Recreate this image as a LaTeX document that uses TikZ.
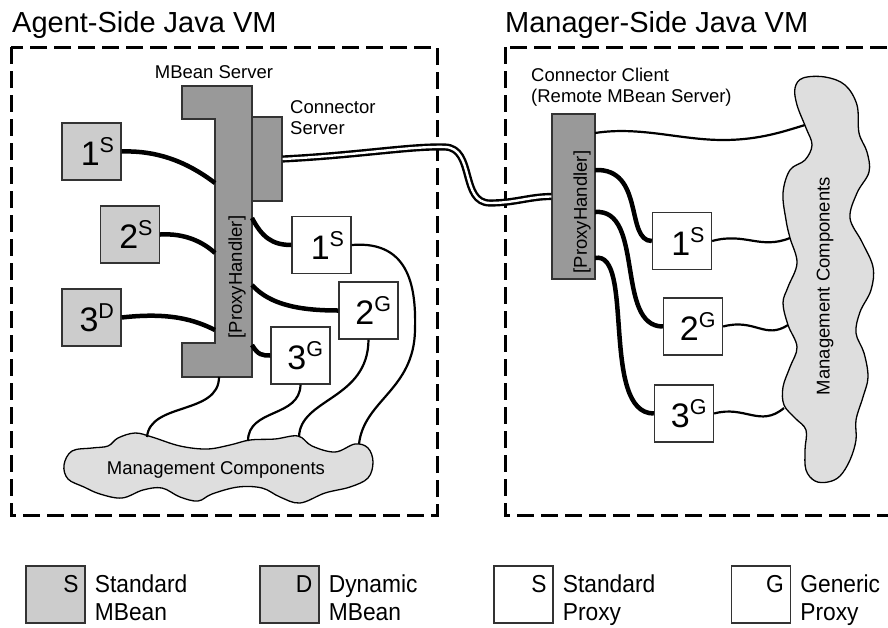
\documentclass[tikz,border=0pt]{standalone}
\usepackage{fontspec}
\setmainfont{Liberation Sans}
\newfontfamily\legfont[FakeStretch=0.93]{Liberation Sans}
\usetikzlibrary{calc}
\definecolor{srvgray}{HTML}{999999}
\definecolor{beangray}{HTML}{CCCCCC}
\definecolor{cloudgray}{HTML}{DEDEDE}
\definecolor{edgegray}{HTML}{333333}
% big box label: number with a raised kind letter
\newcommand\bxlab[2]{{\fontsize{34}{34}\selectfont #1}\raisebox{13pt}{\fontsize{21.5}{21.5}\selectfont #2}}
\begin{document}
\begin{tikzpicture}[x=1pt,y=-1pt,
  vmbox/.style={draw=black, line width=3pt, dash pattern=on 17pt off 7pt},
  title/.style={font=\fontsize{29}{33}\selectfont, anchor=base west, inner sep=0},
  lbl/.style={font=\fontsize{18.5}{21}\selectfont, inner sep=0},
  server/.style={draw=edgegray, line width=1.3pt, fill=srvgray},
  bean/.style={draw=edgegray, line width=1.3pt, fill=beangray, minimum width=59pt,
    minimum height=57pt, inner sep=0, text width=45pt, align=right},
  proxy/.style={bean, fill=white},
  cloudshape/.style={draw=black, line width=1.3pt, fill=cloudgray},
  thicklink/.style={draw=black, line width=4.5pt},
  thinlink/.style={draw=black, line width=2.2pt},
  pipe/.style={draw=black, line width=2.4pt, double=white, double distance=2.4pt},
  legbox/.style={draw=edgegray, line width=1.3pt, minimum width=59pt, minimum height=57pt, inner sep=0},
  legtext/.style={font=\legfont\fontsize{24.5}{28}\selectfont, inner sep=0, align=left}
]
\useasboundingbox (0,0) rectangle (888,627);

% the two virtual machines
\draw[vmbox] (11,47) rectangle (437,515);
\draw[vmbox] (505,47) rectangle (900,515);
\node[title] (tA) at (12,32) {Agent-Side Java VM};
\node[title] (tM) at (505,32) {Manager-Side Java VM};

% ---------------- agent side ----------------
% management components cloud (bottom)
\draw[cloudshape] plot[smooth cycle, tension=0.6] coordinates {
  (64,465) (72,451) (92,448) (108,446) (118,438) (135,433) (152,437) (180,446)
  (207,449) (230,445) (250,440) (275,439) (298,436) (312,446) (335,452) (355,444)
  (368,448) (373,462) (368,478) (350,487) (325,493) (300,503) (280,497) (262,488)
  (238,487) (212,494) (198,501) (180,497) (162,488) (143,490) (122,498) (100,494)
  (84,487) (68,479)};
\node[lbl] (mcl) at (216,470) {Management Components};
\coordinate (c1) at (147,437);
\coordinate (c2) at (248,441);
\coordinate (c3) at (299,437);
\coordinate (c4) at (359,444);

% MBean server
\draw[server] (182,86) -- (252,86) -- (252,377) -- (182,377) -- (182,343)
  -- (215,343) -- (215,119) -- (182,119) -- cycle;
\node[lbl] (msl) at (214,72) {MBean Server};
\node[lbl, rotate=90] (phl) at (237,277) {[ProxyHandler]};
\node[server, minimum width=30pt, minimum height=84pt, inner sep=0] (cs) at (267,159) {};
\node[lbl, align=left, anchor=west] (csl) at (290,117.5) {Connector\\Server};
\coordinate (s1) at (215,183);
\coordinate (s2) at (215,253);
\coordinate (s3) at (215,330);
\coordinate (s4) at (252,218);
\coordinate (s5) at (252,285);
\coordinate (s6) at (252,345);
\coordinate (msbot) at (219,377);

% MBeans
\node[bean] (mb1) at (91.5,151.5) {\bxlab{1}{S}};
\node[bean] (mb2) at (130,234.5) {\bxlab{2}{S}};
\node[bean] (mb3) at (91.5,317.5) {\bxlab{3}{D}};

% local proxies
\node[proxy] (px1) at (321.5,245) {\bxlab{1}{S}};
\node[proxy] (px2) at (368.5,310.5) {\bxlab{2}{G}};
\node[proxy] (px3) at (300.5,355.5) {\bxlab{3}{G}};

% links into the server
\draw[thicklink] (mb1.east) .. controls (165,150) and (195,168) .. (s1);
\draw[thicklink] (mb2.east) .. controls (185,233) and (203,242) .. (s2);
\draw[thicklink] (mb3.east) .. controls (170,312) and (195,320) .. (s3);
\draw[thicklink] (s4) .. controls (262,237) and (272,245) .. (px1.west);
\draw[thicklink] (s5) .. controls (270,305) and (300,310.5) .. (px2.west);
\draw[thicklink] (s6) .. controls (258,355) and (262,355.5) .. (px3.west);

% links down to the management components
\draw[thinlink] (msbot) .. controls (219,415) and (150,402) .. (c1);
\draw[thinlink] (px3.south) .. controls (300,418) and (248,408) .. (c2);
\draw[thinlink] (px2.south) .. controls (368,400) and (300,398) .. (c3);
\draw[thinlink] (px1.east) .. controls (412,240) and (416,292) .. (415,330)
  .. controls (414,390) and (364,400) .. (c4);

% ---------------- manager side ----------------
\draw[cloudshape] plot[smooth cycle, tension=0.6] coordinates {
  (803,78) (795,88) (797,105) (806,128) (812,145) (805,160) (790,170) (783,193)
  (786,220) (790,238) (797,263) (788,287) (783,303) (788,325) (797,347) (790,367)
  (783,387) (784,405) (795,418) (806,430) (805,450) (806,470) (815,481) (828,482)
  (840,476) (850,460) (856,440) (856,420) (863,397) (868,377) (864,353) (856,333)
  (860,312) (871,290) (873,267) (862,242) (850,218) (857,193) (869,172) (867,152)
  (859,133) (857,105) (845,85) (825,77)};
\node[lbl, rotate=90] (mcr) at (825,286) {Management Components};
\coordinate (r0) at (805,125);
\coordinate (r1) at (790,238);
\coordinate (r2) at (788,325);
\coordinate (r3) at (784,408);

% connector client
\node[server, minimum width=43pt, minimum height=165pt, inner sep=0] (phr) at (573.5,196.5) {};
\node[lbl, rotate=90] (phrl) at (582,212) {[ProxyHandler]};
\node[lbl, align=left, anchor=west] (ccl) at (531,87.5) {Connector Client\\(Remote MBean Server)};
\coordinate (p0) at (595,133);
\coordinate (p1) at (595,170);
\coordinate (p2) at (595,212);
\coordinate (p3) at (595,258);

% remote proxies
\node[proxy] (qx1) at (682,241) {\bxlab{1}{S}};
\node[proxy] (qx2) at (693,326.5) {\bxlab{2}{G}};
\node[proxy] (qx3) at (684,413.5) {\bxlab{3}{G}};

\draw[thinlink] (p0) .. controls (640,126) and (680,140) .. (723,140)
  .. controls (760,140) and (785,131) .. (r0);
\draw[thicklink] (p1) .. controls (645,168) and (625,241) .. (qx1.west);
\draw[thicklink] (p2) .. controls (645,208) and (615,326.5) .. (qx2.west);
\draw[thicklink] (p3) .. controls (635,250) and (600,413.5) .. (qx3.west);
\draw[thinlink] (qx1.east) .. controls (745,232) and (760,250) .. (r1);
\draw[thinlink] (qx2.east) .. controls (755,318) and (765,340) .. (r2);
\draw[thinlink] (qx3.east) .. controls (745,405) and (760,428) .. (r3);

% connection between connector server and client
\draw[pipe] (cs.east) .. controls (360,155) and (410,146) .. (445,147)
  .. controls (475,148) and (460,203) .. (490,203)
  .. controls (515,203) and (530,196.5) .. (phr.west);

% ---------------- legend ----------------
\node[legbox, fill=beangray] (lg1) at (55.5,594.5) {};
\node[legbox, fill=beangray] (lg2) at (289.5,594.5) {};
\node[legbox, fill=white] (lg3) at (523.5,594.5) {};
\node[legbox, fill=white] (lg4) at (761,594.5) {};
\foreach \b/\k/\t in {lg1/S/{Standard\\MBean}, lg2/D/{Dynamic\\MBean},
                      lg3/S/{Standard\\Proxy}, lg4/G/{Generic\\Proxy}} {
  \node[legtext, anchor=base east] (\b k) at ($(\b.north east)+(-7,27)$) {\k};
  \node[legtext, anchor=north west] (\b t) at ($(\b.north east)+(9,9.5)$) {\t};
}
\end{tikzpicture}
\end{document}
